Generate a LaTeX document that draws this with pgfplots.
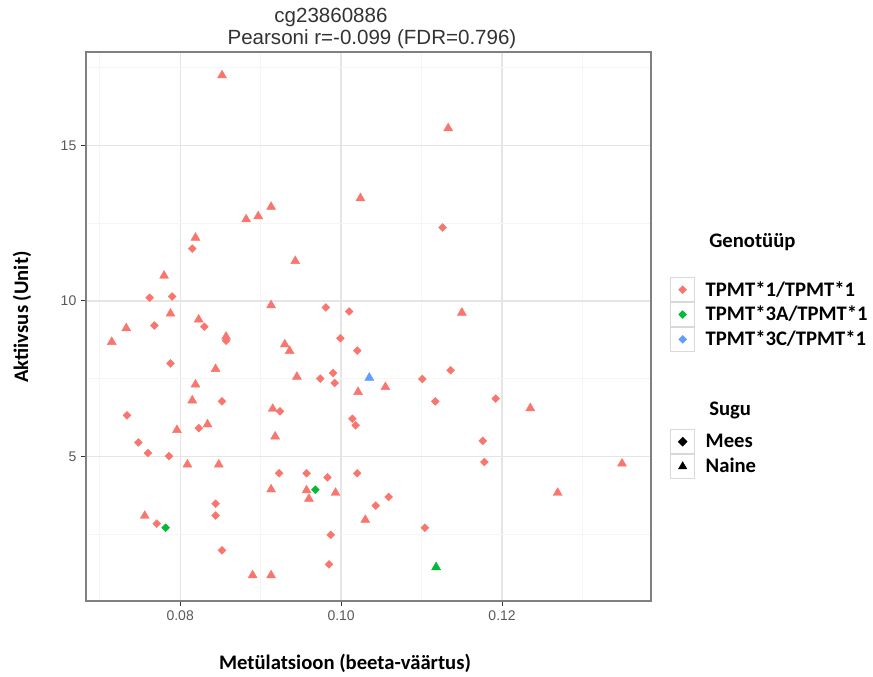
\documentclass[border=0pt]{standalone}
\usepackage{fontspec}
\setmainfont{Liberation Sans}
\newfontfamily\carlito{Carlito}
\usepackage{pgfplots}
\usepackage{pgfplotstable}
\pgfplotsset{compat=1.18}

\definecolor{ggred}{HTML}{F8766D}
\definecolor{gggreen}{HTML}{00BA38}
\definecolor{ggblue}{HTML}{619CFF}

% TPMT*1/TPMT*1, Mees
\pgfplotstableread{
x y
0.0815 11.68
0.0762 10.10
0.0790 10.14
0.0981 9.79
0.1010 9.66
0.0768 9.21
0.0830 9.17
0.0857 8.72
0.0999 8.80
0.1020 8.40
0.0788 7.99
0.0974 7.50
0.0990 7.68
0.0992 7.36
0.0852 6.77
0.0924 6.45
0.1014 6.21
0.1018 6.00
0.0734 6.32
0.0823 5.91
0.0748 5.45
0.0760 5.11
0.0786 5.01
0.0923 4.46
0.0957 4.46
0.0983 4.33
0.1020 4.46
0.0844 3.48
0.0844 3.10
0.0771 2.84
0.0987 2.48
0.0852 1.98
0.0985 1.53
0.1126 12.36
0.1136 7.77
0.1101 7.49
0.1117 6.77
0.1192 6.86
0.1176 5.50
0.1178 4.82
0.1059 3.70
0.1043 3.42
0.1104 2.71
}\redmees

% TPMT*1/TPMT*1, Naine
\pgfplotstableread{
x y
0.0852 17.25
0.1133 15.55
0.1024 13.30
0.0882 12.62
0.0897 12.72
0.0913 13.02
0.0819 12.03
0.0943 11.28
0.0780 10.81
0.0913 9.86
0.0788 9.59
0.0823 9.40
0.0733 9.12
0.0715 8.68
0.0857 8.85
0.0930 8.60
0.0936 8.39
0.0844 7.81
0.0945 7.56
0.1021 7.07
0.0819 7.31
0.0815 6.80
0.0915 6.53
0.0918 5.64
0.0834 6.03
0.0796 5.85
0.0809 4.74
0.0848 4.74
0.0913 3.94
0.0957 3.91
0.0960 3.64
0.0993 3.83
0.1030 2.96
0.0756 3.09
0.0890 1.18
0.0913 1.18
0.1150 9.62
0.1055 7.23
0.1235 6.55
0.1349 4.77
0.1269 3.83
}\rednaine

\pgfplotstableread{
x y
0.0968 3.93
0.0782 2.71
}\greenmees

\pgfplotstableread{
x y
0.1118 1.44
}\greennaine

\pgfplotstableread{
x y
0.1035 7.53
}\bluenaine

\pgfplotsset{
  keybox/.style={
    legend cell align=left,
    legend image code/.code={
      \draw[black!15, line width=0.6pt, fill=white] (0pt,-9pt) rectangle (18pt,9pt);
      \draw[##1] plot coordinates {(9pt,0pt)};
    },
    legend style={anchor=north west, draw=none, fill=none, inner sep=0pt,
      row sep=0pt, nodes={inner sep=0pt},
      /tikz/every odd column/.append style={column sep=8pt},
      font=\carlito\bfseries\fontsize{15.5}{18}\selectfont},
  },
  dia/.style={only marks, mark=square*, mark size=2.1pt, mark options={rotate=45, line width=0.3pt}},
  tri/.style={only marks, mark=triangle*, mark size=3.9pt, mark options={line width=0.3pt}},
}

\begin{document}
\begin{tikzpicture}
\path[use as bounding box] (-64.5pt,-57pt) rectangle (590.25pt,450.75pt);
\begin{axis}[
    at={(0pt,0pt)}, anchor=south west,
    scale only axis,
    width=423.75pt,
    height=411.75pt,
    xmin=0.0683, xmax=0.1385,
    ymin=0.354, ymax=18.0,
    xtick={0.08,0.10,0.12},
    ytick={5,10,15},
    minor xtick={0.07,0.09,0.11,0.13},
    minor ytick={2.5,7.5,12.5,17.5},
    grid=both,
    major grid style={black!10, line width=1pt},
    minor grid style={black!4, line width=0.8pt},
    axis line style={black!50, line width=1pt},
    tick pos=left,
    tick align=outside,
    major tick length=3.75pt,
    minor tick length=0pt,
    tick style={black!80, line width=0.8pt},
    ticklabel style={font=\fontsize{10.5}{12}\selectfont, text=black!65},
    x tick label style={/pgf/number format/.cd, fixed, fixed zerofill, precision=2, assume math mode=true},
    y tick label style={/pgf/number format/assume math mode=true},
    keybox,
    legend style={at={(1.0336,0.590)}},
]
\addplot[dia, color=ggred, forget plot] table {\redmees};
\addplot[tri, color=ggred, forget plot] table {\rednaine};
\addplot[dia, color=gggreen, forget plot] table {\greenmees};
\addplot[tri, color=gggreen, forget plot] table {\greennaine};
\addplot[tri, color=ggblue, forget plot] table {\bluenaine};
\addlegendimage{dia, color=ggred}
\addlegendentry{TPMT*1/TPMT*1}
\addlegendimage{dia, color=gggreen}
\addlegendentry{TPMT*3A/TPMT*1}
\addlegendimage{dia, color=ggblue}
\addlegendentry{TPMT*3C/TPMT*1}
\end{axis}

\begin{axis}[
    at={(0pt,0pt)}, anchor=south west,
    scale only axis,
    width=423.75pt,
    height=411.75pt,
    hide axis,
    xmin=0, xmax=1, ymin=0, ymax=1,
    keybox,
    legend style={at={(1.0336,0.3133)}},
]
\addlegendimage{dia, mark size=2.4pt, color=black}
\addlegendentry{Mees}
\addlegendimage{tri, mark size=3.6pt, color=black}
\addlegendentry{Naine}
\end{axis}

\node[font=\fontsize{15.4}{18}\selectfont, text=black!80] at (183.75pt,438pt) {cg23860886};
\node[font=\fontsize{15.4}{18}\selectfont, text=black!80] at (214.5pt,421.5pt) {Pearsoni r=-0.099 (FDR=0.796)};
\node[font=\carlito\bfseries\fontsize{15.5}{18}\selectfont] at (194.25pt,-46.5pt) {Metülatsioon (beeta-väärtus)};
\node[font=\carlito\bfseries\fontsize{15.5}{18}\selectfont, rotate=90] at (-48pt,213pt) {Aktiivsus (Unit)};
\node[font=\carlito\bfseries\fontsize{15.5}{18}\selectfont, anchor=west, inner sep=0pt] at (467.25pt,269.25pt) {Genotüüp};
\node[font=\carlito\bfseries\fontsize{15.5}{18}\selectfont, anchor=west, inner sep=0pt] at (467.25pt,143.25pt) {Sugu};
\end{tikzpicture}
\end{document}
